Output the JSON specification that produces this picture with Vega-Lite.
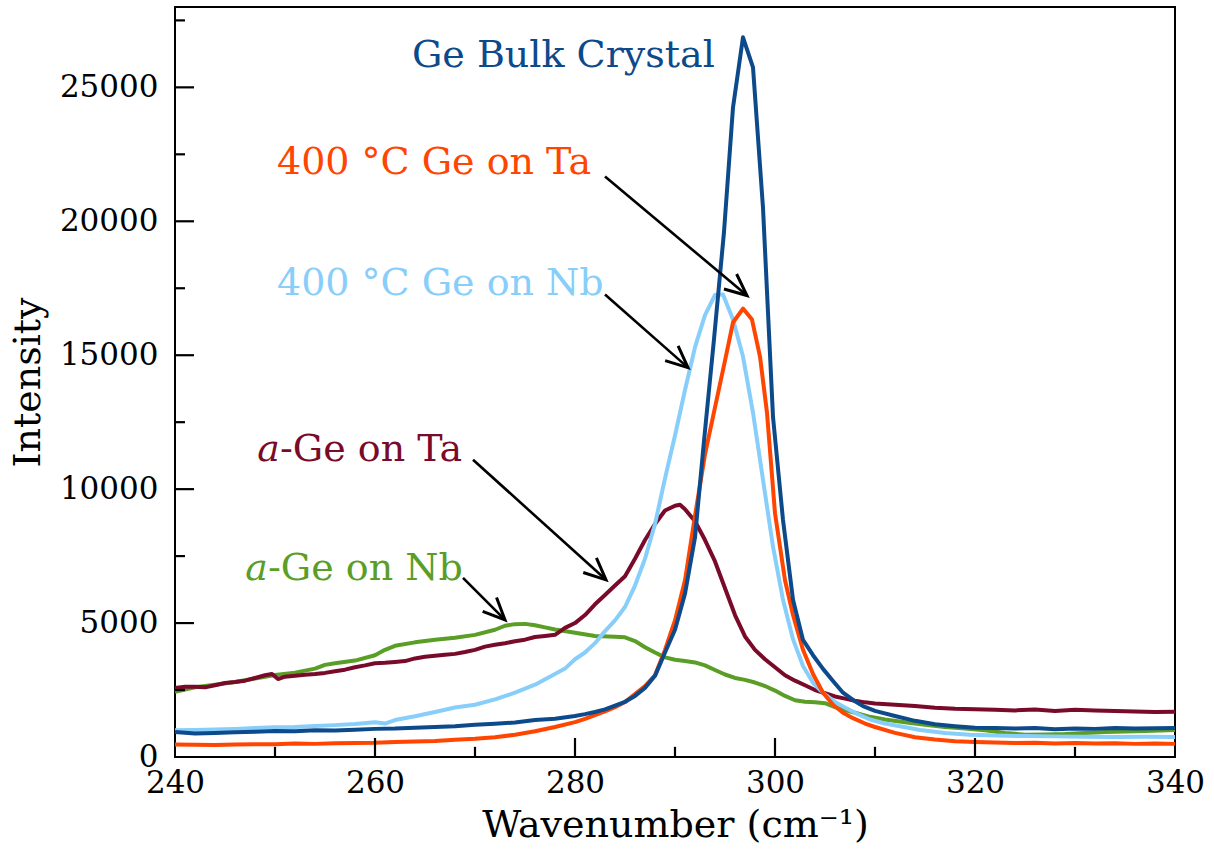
{
  "$schema": "https://vega.github.io/schema/vega-lite/v6.json",
  "width": 1000,
  "height": 750,
  "autosize": "none",
  "padding": {"left": 175, "top": 7, "right": 39, "bottom": 97},
  "background": "white",
  "config": {
    "font": "DejaVu Serif",
    "view": {"stroke": "black", "strokeWidth": 2},
    "axis": {
      "grid": false,
      "domain": false,
      "ticks": false,
      "labelColor": "black",
      "labelFont": "DejaVu Serif",
      "labelFlush": false,
      "titleFont": "DejaVu Serif",
      "titleColor": "black",
      "titleFontWeight": "normal"
    }
  },
  "datasets": {
    "spectra": [
      {"series": "a-Ge on Nb", "wavenumber": 240, "intensity": 2430},
      {"series": "a-Ge on Nb", "wavenumber": 242, "intensity": 2600},
      {"series": "a-Ge on Nb", "wavenumber": 244, "intensity": 2700},
      {"series": "a-Ge on Nb", "wavenumber": 246, "intensity": 2800},
      {"series": "a-Ge on Nb", "wavenumber": 248, "intensity": 2930},
      {"series": "a-Ge on Nb", "wavenumber": 250, "intensity": 3060},
      {"series": "a-Ge on Nb", "wavenumber": 252, "intensity": 3150},
      {"series": "a-Ge on Nb", "wavenumber": 254, "intensity": 3300},
      {"series": "a-Ge on Nb", "wavenumber": 255, "intensity": 3440},
      {"series": "a-Ge on Nb", "wavenumber": 256, "intensity": 3500},
      {"series": "a-Ge on Nb", "wavenumber": 258, "intensity": 3600},
      {"series": "a-Ge on Nb", "wavenumber": 260, "intensity": 3800},
      {"series": "a-Ge on Nb", "wavenumber": 261, "intensity": 4000},
      {"series": "a-Ge on Nb", "wavenumber": 262, "intensity": 4150},
      {"series": "a-Ge on Nb", "wavenumber": 264, "intensity": 4280},
      {"series": "a-Ge on Nb", "wavenumber": 266, "intensity": 4380},
      {"series": "a-Ge on Nb", "wavenumber": 268, "intensity": 4450},
      {"series": "a-Ge on Nb", "wavenumber": 270, "intensity": 4560},
      {"series": "a-Ge on Nb", "wavenumber": 272, "intensity": 4750},
      {"series": "a-Ge on Nb", "wavenumber": 273, "intensity": 4900},
      {"series": "a-Ge on Nb", "wavenumber": 274, "intensity": 4960},
      {"series": "a-Ge on Nb", "wavenumber": 275, "intensity": 4970},
      {"series": "a-Ge on Nb", "wavenumber": 276, "intensity": 4920},
      {"series": "a-Ge on Nb", "wavenumber": 277, "intensity": 4840},
      {"series": "a-Ge on Nb", "wavenumber": 278, "intensity": 4760},
      {"series": "a-Ge on Nb", "wavenumber": 280, "intensity": 4640},
      {"series": "a-Ge on Nb", "wavenumber": 282, "intensity": 4520},
      {"series": "a-Ge on Nb", "wavenumber": 284, "intensity": 4490},
      {"series": "a-Ge on Nb", "wavenumber": 285, "intensity": 4470},
      {"series": "a-Ge on Nb", "wavenumber": 286, "intensity": 4330},
      {"series": "a-Ge on Nb", "wavenumber": 287, "intensity": 4100},
      {"series": "a-Ge on Nb", "wavenumber": 288, "intensity": 3900},
      {"series": "a-Ge on Nb", "wavenumber": 289, "intensity": 3720},
      {"series": "a-Ge on Nb", "wavenumber": 290, "intensity": 3630},
      {"series": "a-Ge on Nb", "wavenumber": 291, "intensity": 3580},
      {"series": "a-Ge on Nb", "wavenumber": 292, "intensity": 3530},
      {"series": "a-Ge on Nb", "wavenumber": 293, "intensity": 3420},
      {"series": "a-Ge on Nb", "wavenumber": 294, "intensity": 3250},
      {"series": "a-Ge on Nb", "wavenumber": 295, "intensity": 3080},
      {"series": "a-Ge on Nb", "wavenumber": 296, "intensity": 2950},
      {"series": "a-Ge on Nb", "wavenumber": 297, "intensity": 2880},
      {"series": "a-Ge on Nb", "wavenumber": 298, "intensity": 2780},
      {"series": "a-Ge on Nb", "wavenumber": 299, "intensity": 2650},
      {"series": "a-Ge on Nb", "wavenumber": 300, "intensity": 2480},
      {"series": "a-Ge on Nb", "wavenumber": 301, "intensity": 2280},
      {"series": "a-Ge on Nb", "wavenumber": 302, "intensity": 2120},
      {"series": "a-Ge on Nb", "wavenumber": 303, "intensity": 2060},
      {"series": "a-Ge on Nb", "wavenumber": 304, "intensity": 2040},
      {"series": "a-Ge on Nb", "wavenumber": 305, "intensity": 2010},
      {"series": "a-Ge on Nb", "wavenumber": 306, "intensity": 1860},
      {"series": "a-Ge on Nb", "wavenumber": 307, "intensity": 1750},
      {"series": "a-Ge on Nb", "wavenumber": 308, "intensity": 1650},
      {"series": "a-Ge on Nb", "wavenumber": 309.5, "intensity": 1500},
      {"series": "a-Ge on Nb", "wavenumber": 311, "intensity": 1400},
      {"series": "a-Ge on Nb", "wavenumber": 313, "intensity": 1300},
      {"series": "a-Ge on Nb", "wavenumber": 315, "intensity": 1200},
      {"series": "a-Ge on Nb", "wavenumber": 317, "intensity": 1120},
      {"series": "a-Ge on Nb", "wavenumber": 319, "intensity": 1060},
      {"series": "a-Ge on Nb", "wavenumber": 321, "intensity": 1000},
      {"series": "a-Ge on Nb", "wavenumber": 323, "intensity": 900},
      {"series": "a-Ge on Nb", "wavenumber": 325, "intensity": 830},
      {"series": "a-Ge on Nb", "wavenumber": 327, "intensity": 840},
      {"series": "a-Ge on Nb", "wavenumber": 329, "intensity": 860},
      {"series": "a-Ge on Nb", "wavenumber": 331, "intensity": 900},
      {"series": "a-Ge on Nb", "wavenumber": 333, "intensity": 930},
      {"series": "a-Ge on Nb", "wavenumber": 335, "intensity": 950},
      {"series": "a-Ge on Nb", "wavenumber": 337, "intensity": 970},
      {"series": "a-Ge on Nb", "wavenumber": 340, "intensity": 1010},

      {"series": "a-Ge on Ta", "wavenumber": 240, "intensity": 2580},
      {"series": "a-Ge on Ta", "wavenumber": 241, "intensity": 2620},
      {"series": "a-Ge on Ta", "wavenumber": 242, "intensity": 2620},
      {"series": "a-Ge on Ta", "wavenumber": 243, "intensity": 2600},
      {"series": "a-Ge on Ta", "wavenumber": 244, "intensity": 2680},
      {"series": "a-Ge on Ta", "wavenumber": 245, "intensity": 2760},
      {"series": "a-Ge on Ta", "wavenumber": 246, "intensity": 2800},
      {"series": "a-Ge on Ta", "wavenumber": 247, "intensity": 2850},
      {"series": "a-Ge on Ta", "wavenumber": 248, "intensity": 2950},
      {"series": "a-Ge on Ta", "wavenumber": 249, "intensity": 3050},
      {"series": "a-Ge on Ta", "wavenumber": 249.7, "intensity": 3100},
      {"series": "a-Ge on Ta", "wavenumber": 250.3, "intensity": 2910},
      {"series": "a-Ge on Ta", "wavenumber": 251, "intensity": 3000},
      {"series": "a-Ge on Ta", "wavenumber": 252, "intensity": 3030},
      {"series": "a-Ge on Ta", "wavenumber": 253, "intensity": 3070},
      {"series": "a-Ge on Ta", "wavenumber": 254, "intensity": 3100},
      {"series": "a-Ge on Ta", "wavenumber": 255, "intensity": 3140},
      {"series": "a-Ge on Ta", "wavenumber": 256, "intensity": 3200},
      {"series": "a-Ge on Ta", "wavenumber": 257, "intensity": 3260},
      {"series": "a-Ge on Ta", "wavenumber": 258, "intensity": 3350},
      {"series": "a-Ge on Ta", "wavenumber": 259, "intensity": 3420},
      {"series": "a-Ge on Ta", "wavenumber": 260, "intensity": 3500},
      {"series": "a-Ge on Ta", "wavenumber": 261, "intensity": 3520},
      {"series": "a-Ge on Ta", "wavenumber": 262, "intensity": 3550},
      {"series": "a-Ge on Ta", "wavenumber": 263, "intensity": 3580},
      {"series": "a-Ge on Ta", "wavenumber": 264, "intensity": 3680},
      {"series": "a-Ge on Ta", "wavenumber": 265, "intensity": 3740},
      {"series": "a-Ge on Ta", "wavenumber": 266, "intensity": 3780},
      {"series": "a-Ge on Ta", "wavenumber": 267, "intensity": 3820},
      {"series": "a-Ge on Ta", "wavenumber": 268, "intensity": 3850},
      {"series": "a-Ge on Ta", "wavenumber": 269, "intensity": 3920},
      {"series": "a-Ge on Ta", "wavenumber": 270, "intensity": 4000},
      {"series": "a-Ge on Ta", "wavenumber": 271, "intensity": 4120},
      {"series": "a-Ge on Ta", "wavenumber": 272, "intensity": 4190},
      {"series": "a-Ge on Ta", "wavenumber": 273, "intensity": 4250},
      {"series": "a-Ge on Ta", "wavenumber": 274, "intensity": 4320},
      {"series": "a-Ge on Ta", "wavenumber": 275, "intensity": 4380},
      {"series": "a-Ge on Ta", "wavenumber": 276, "intensity": 4480},
      {"series": "a-Ge on Ta", "wavenumber": 277, "intensity": 4520},
      {"series": "a-Ge on Ta", "wavenumber": 278, "intensity": 4560},
      {"series": "a-Ge on Ta", "wavenumber": 279, "intensity": 4820},
      {"series": "a-Ge on Ta", "wavenumber": 280, "intensity": 5000},
      {"series": "a-Ge on Ta", "wavenumber": 281, "intensity": 5300},
      {"series": "a-Ge on Ta", "wavenumber": 282, "intensity": 5700},
      {"series": "a-Ge on Ta", "wavenumber": 283, "intensity": 6050},
      {"series": "a-Ge on Ta", "wavenumber": 284, "intensity": 6400},
      {"series": "a-Ge on Ta", "wavenumber": 285, "intensity": 6750},
      {"series": "a-Ge on Ta", "wavenumber": 286, "intensity": 7400},
      {"series": "a-Ge on Ta", "wavenumber": 287, "intensity": 8100},
      {"series": "a-Ge on Ta", "wavenumber": 288, "intensity": 8700},
      {"series": "a-Ge on Ta", "wavenumber": 289, "intensity": 9200},
      {"series": "a-Ge on Ta", "wavenumber": 290, "intensity": 9380},
      {"series": "a-Ge on Ta", "wavenumber": 290.5, "intensity": 9420},
      {"series": "a-Ge on Ta", "wavenumber": 291, "intensity": 9250},
      {"series": "a-Ge on Ta", "wavenumber": 292, "intensity": 8800},
      {"series": "a-Ge on Ta", "wavenumber": 293, "intensity": 8100},
      {"series": "a-Ge on Ta", "wavenumber": 294, "intensity": 7300},
      {"series": "a-Ge on Ta", "wavenumber": 295, "intensity": 6300},
      {"series": "a-Ge on Ta", "wavenumber": 296, "intensity": 5300},
      {"series": "a-Ge on Ta", "wavenumber": 297, "intensity": 4500},
      {"series": "a-Ge on Ta", "wavenumber": 298, "intensity": 4000},
      {"series": "a-Ge on Ta", "wavenumber": 299, "intensity": 3650},
      {"series": "a-Ge on Ta", "wavenumber": 300, "intensity": 3350},
      {"series": "a-Ge on Ta", "wavenumber": 301, "intensity": 3050},
      {"series": "a-Ge on Ta", "wavenumber": 302, "intensity": 2850},
      {"series": "a-Ge on Ta", "wavenumber": 303, "intensity": 2680},
      {"series": "a-Ge on Ta", "wavenumber": 304, "intensity": 2500},
      {"series": "a-Ge on Ta", "wavenumber": 305, "intensity": 2380},
      {"series": "a-Ge on Ta", "wavenumber": 306, "intensity": 2260},
      {"series": "a-Ge on Ta", "wavenumber": 307, "intensity": 2180},
      {"series": "a-Ge on Ta", "wavenumber": 308, "intensity": 2100},
      {"series": "a-Ge on Ta", "wavenumber": 309, "intensity": 2040},
      {"series": "a-Ge on Ta", "wavenumber": 310, "intensity": 2000},
      {"series": "a-Ge on Ta", "wavenumber": 312, "intensity": 1950},
      {"series": "a-Ge on Ta", "wavenumber": 314, "intensity": 1900},
      {"series": "a-Ge on Ta", "wavenumber": 316, "intensity": 1840},
      {"series": "a-Ge on Ta", "wavenumber": 318, "intensity": 1800},
      {"series": "a-Ge on Ta", "wavenumber": 320, "intensity": 1780},
      {"series": "a-Ge on Ta", "wavenumber": 322, "intensity": 1760},
      {"series": "a-Ge on Ta", "wavenumber": 324, "intensity": 1740},
      {"series": "a-Ge on Ta", "wavenumber": 326, "intensity": 1770},
      {"series": "a-Ge on Ta", "wavenumber": 328, "intensity": 1720},
      {"series": "a-Ge on Ta", "wavenumber": 330, "intensity": 1760},
      {"series": "a-Ge on Ta", "wavenumber": 332, "intensity": 1740},
      {"series": "a-Ge on Ta", "wavenumber": 334, "intensity": 1720},
      {"series": "a-Ge on Ta", "wavenumber": 336, "intensity": 1700},
      {"series": "a-Ge on Ta", "wavenumber": 338, "intensity": 1680},
      {"series": "a-Ge on Ta", "wavenumber": 340, "intensity": 1690},

      {"series": "400 °C Ge on Nb", "wavenumber": 240, "intensity": 1000},
      {"series": "400 °C Ge on Nb", "wavenumber": 242, "intensity": 1010},
      {"series": "400 °C Ge on Nb", "wavenumber": 244, "intensity": 1030},
      {"series": "400 °C Ge on Nb", "wavenumber": 246, "intensity": 1050},
      {"series": "400 °C Ge on Nb", "wavenumber": 248, "intensity": 1080},
      {"series": "400 °C Ge on Nb", "wavenumber": 250, "intensity": 1110},
      {"series": "400 °C Ge on Nb", "wavenumber": 252, "intensity": 1120},
      {"series": "400 °C Ge on Nb", "wavenumber": 254, "intensity": 1160},
      {"series": "400 °C Ge on Nb", "wavenumber": 256, "intensity": 1190},
      {"series": "400 °C Ge on Nb", "wavenumber": 258, "intensity": 1230},
      {"series": "400 °C Ge on Nb", "wavenumber": 260, "intensity": 1300},
      {"series": "400 °C Ge on Nb", "wavenumber": 261, "intensity": 1250},
      {"series": "400 °C Ge on Nb", "wavenumber": 262, "intensity": 1380},
      {"series": "400 °C Ge on Nb", "wavenumber": 264, "intensity": 1520},
      {"series": "400 °C Ge on Nb", "wavenumber": 266, "intensity": 1680},
      {"series": "400 °C Ge on Nb", "wavenumber": 268, "intensity": 1850},
      {"series": "400 °C Ge on Nb", "wavenumber": 270, "intensity": 1950},
      {"series": "400 °C Ge on Nb", "wavenumber": 272, "intensity": 2150},
      {"series": "400 °C Ge on Nb", "wavenumber": 274, "intensity": 2400},
      {"series": "400 °C Ge on Nb", "wavenumber": 276, "intensity": 2700},
      {"series": "400 °C Ge on Nb", "wavenumber": 278, "intensity": 3100},
      {"series": "400 °C Ge on Nb", "wavenumber": 279, "intensity": 3300},
      {"series": "400 °C Ge on Nb", "wavenumber": 280, "intensity": 3650},
      {"series": "400 °C Ge on Nb", "wavenumber": 281, "intensity": 3900},
      {"series": "400 °C Ge on Nb", "wavenumber": 282, "intensity": 4250},
      {"series": "400 °C Ge on Nb", "wavenumber": 283, "intensity": 4700},
      {"series": "400 °C Ge on Nb", "wavenumber": 284, "intensity": 5100},
      {"series": "400 °C Ge on Nb", "wavenumber": 285, "intensity": 5600},
      {"series": "400 °C Ge on Nb", "wavenumber": 286, "intensity": 6400},
      {"series": "400 °C Ge on Nb", "wavenumber": 287, "intensity": 7400},
      {"series": "400 °C Ge on Nb", "wavenumber": 288, "intensity": 8700},
      {"series": "400 °C Ge on Nb", "wavenumber": 289, "intensity": 10400},
      {"series": "400 °C Ge on Nb", "wavenumber": 290, "intensity": 12000},
      {"series": "400 °C Ge on Nb", "wavenumber": 291, "intensity": 13700},
      {"series": "400 °C Ge on Nb", "wavenumber": 292, "intensity": 15300},
      {"series": "400 °C Ge on Nb", "wavenumber": 293, "intensity": 16500},
      {"series": "400 °C Ge on Nb", "wavenumber": 294, "intensity": 17250},
      {"series": "400 °C Ge on Nb", "wavenumber": 294.8, "intensity": 17270},
      {"series": "400 °C Ge on Nb", "wavenumber": 295.8, "intensity": 16330},
      {"series": "400 °C Ge on Nb", "wavenumber": 296.8, "intensity": 14950},
      {"series": "400 °C Ge on Nb", "wavenumber": 297.8, "intensity": 12850},
      {"series": "400 °C Ge on Nb", "wavenumber": 298.8, "intensity": 10350},
      {"series": "400 °C Ge on Nb", "wavenumber": 299.8, "intensity": 7850},
      {"series": "400 °C Ge on Nb", "wavenumber": 300.8, "intensity": 5870},
      {"series": "400 °C Ge on Nb", "wavenumber": 301.8, "intensity": 4400},
      {"series": "400 °C Ge on Nb", "wavenumber": 302.8, "intensity": 3400},
      {"series": "400 °C Ge on Nb", "wavenumber": 303.8, "intensity": 2770},
      {"series": "400 °C Ge on Nb", "wavenumber": 304.8, "intensity": 2400},
      {"series": "400 °C Ge on Nb", "wavenumber": 306, "intensity": 2050},
      {"series": "400 °C Ge on Nb", "wavenumber": 307, "intensity": 1850},
      {"series": "400 °C Ge on Nb", "wavenumber": 308, "intensity": 1650},
      {"series": "400 °C Ge on Nb", "wavenumber": 309.5, "intensity": 1400},
      {"series": "400 °C Ge on Nb", "wavenumber": 311, "intensity": 1250},
      {"series": "400 °C Ge on Nb", "wavenumber": 312.5, "intensity": 1150},
      {"series": "400 °C Ge on Nb", "wavenumber": 314.5, "intensity": 1010},
      {"series": "400 °C Ge on Nb", "wavenumber": 317, "intensity": 900},
      {"series": "400 °C Ge on Nb", "wavenumber": 319.5, "intensity": 830},
      {"series": "400 °C Ge on Nb", "wavenumber": 322, "intensity": 800},
      {"series": "400 °C Ge on Nb", "wavenumber": 325, "intensity": 780},
      {"series": "400 °C Ge on Nb", "wavenumber": 328, "intensity": 770},
      {"series": "400 °C Ge on Nb", "wavenumber": 331, "intensity": 760},
      {"series": "400 °C Ge on Nb", "wavenumber": 334, "intensity": 750},
      {"series": "400 °C Ge on Nb", "wavenumber": 337, "intensity": 755},
      {"series": "400 °C Ge on Nb", "wavenumber": 340, "intensity": 750},

      {"series": "400 °C Ge on Ta", "wavenumber": 240, "intensity": 470},
      {"series": "400 °C Ge on Ta", "wavenumber": 242, "intensity": 460},
      {"series": "400 °C Ge on Ta", "wavenumber": 244, "intensity": 450},
      {"series": "400 °C Ge on Ta", "wavenumber": 246, "intensity": 470},
      {"series": "400 °C Ge on Ta", "wavenumber": 248, "intensity": 480},
      {"series": "400 °C Ge on Ta", "wavenumber": 250, "intensity": 480},
      {"series": "400 °C Ge on Ta", "wavenumber": 252, "intensity": 500},
      {"series": "400 °C Ge on Ta", "wavenumber": 254, "intensity": 490},
      {"series": "400 °C Ge on Ta", "wavenumber": 256, "intensity": 510},
      {"series": "400 °C Ge on Ta", "wavenumber": 258, "intensity": 520},
      {"series": "400 °C Ge on Ta", "wavenumber": 260, "intensity": 530},
      {"series": "400 °C Ge on Ta", "wavenumber": 262, "intensity": 560},
      {"series": "400 °C Ge on Ta", "wavenumber": 264, "intensity": 580},
      {"series": "400 °C Ge on Ta", "wavenumber": 266, "intensity": 600},
      {"series": "400 °C Ge on Ta", "wavenumber": 268, "intensity": 640},
      {"series": "400 °C Ge on Ta", "wavenumber": 270, "intensity": 680},
      {"series": "400 °C Ge on Ta", "wavenumber": 272, "intensity": 740},
      {"series": "400 °C Ge on Ta", "wavenumber": 274, "intensity": 830},
      {"series": "400 °C Ge on Ta", "wavenumber": 276, "intensity": 960},
      {"series": "400 °C Ge on Ta", "wavenumber": 278, "intensity": 1120},
      {"series": "400 °C Ge on Ta", "wavenumber": 280, "intensity": 1300},
      {"series": "400 °C Ge on Ta", "wavenumber": 281, "intensity": 1420},
      {"series": "400 °C Ge on Ta", "wavenumber": 282, "intensity": 1560},
      {"series": "400 °C Ge on Ta", "wavenumber": 283, "intensity": 1700},
      {"series": "400 °C Ge on Ta", "wavenumber": 284, "intensity": 1860},
      {"series": "400 °C Ge on Ta", "wavenumber": 285, "intensity": 2050},
      {"series": "400 °C Ge on Ta", "wavenumber": 286, "intensity": 2350},
      {"series": "400 °C Ge on Ta", "wavenumber": 287, "intensity": 2650},
      {"series": "400 °C Ge on Ta", "wavenumber": 288, "intensity": 3050},
      {"series": "400 °C Ge on Ta", "wavenumber": 289, "intensity": 4000},
      {"series": "400 °C Ge on Ta", "wavenumber": 290, "intensity": 5100},
      {"series": "400 °C Ge on Ta", "wavenumber": 291, "intensity": 6600},
      {"series": "400 °C Ge on Ta", "wavenumber": 292, "intensity": 9000},
      {"series": "400 °C Ge on Ta", "wavenumber": 293, "intensity": 11300},
      {"series": "400 °C Ge on Ta", "wavenumber": 294, "intensity": 13050},
      {"series": "400 °C Ge on Ta", "wavenumber": 295, "intensity": 14800},
      {"series": "400 °C Ge on Ta", "wavenumber": 295.8, "intensity": 16220},
      {"series": "400 °C Ge on Ta", "wavenumber": 296.8, "intensity": 16740},
      {"series": "400 °C Ge on Ta", "wavenumber": 297.7, "intensity": 16330},
      {"series": "400 °C Ge on Ta", "wavenumber": 298.5, "intensity": 14950},
      {"series": "400 °C Ge on Ta", "wavenumber": 299.2, "intensity": 12850},
      {"series": "400 °C Ge on Ta", "wavenumber": 300, "intensity": 9100},
      {"series": "400 °C Ge on Ta", "wavenumber": 301, "intensity": 6600},
      {"series": "400 °C Ge on Ta", "wavenumber": 301.8, "intensity": 5300},
      {"series": "400 °C Ge on Ta", "wavenumber": 302.8, "intensity": 4000},
      {"series": "400 °C Ge on Ta", "wavenumber": 303.8, "intensity": 3100},
      {"series": "400 °C Ge on Ta", "wavenumber": 304.8, "intensity": 2400},
      {"series": "400 °C Ge on Ta", "wavenumber": 305.8, "intensity": 1950},
      {"series": "400 °C Ge on Ta", "wavenumber": 306.8, "intensity": 1650},
      {"series": "400 °C Ge on Ta", "wavenumber": 307.8, "intensity": 1450},
      {"series": "400 °C Ge on Ta", "wavenumber": 309, "intensity": 1250},
      {"series": "400 °C Ge on Ta", "wavenumber": 310, "intensity": 1120},
      {"series": "400 °C Ge on Ta", "wavenumber": 312, "intensity": 900},
      {"series": "400 °C Ge on Ta", "wavenumber": 314, "intensity": 740},
      {"series": "400 °C Ge on Ta", "wavenumber": 316, "intensity": 650},
      {"series": "400 °C Ge on Ta", "wavenumber": 318, "intensity": 590},
      {"series": "400 °C Ge on Ta", "wavenumber": 320, "intensity": 560},
      {"series": "400 °C Ge on Ta", "wavenumber": 322, "intensity": 540},
      {"series": "400 °C Ge on Ta", "wavenumber": 324, "intensity": 520},
      {"series": "400 °C Ge on Ta", "wavenumber": 326, "intensity": 530},
      {"series": "400 °C Ge on Ta", "wavenumber": 328, "intensity": 500},
      {"series": "400 °C Ge on Ta", "wavenumber": 330, "intensity": 520},
      {"series": "400 °C Ge on Ta", "wavenumber": 332, "intensity": 500},
      {"series": "400 °C Ge on Ta", "wavenumber": 334, "intensity": 510},
      {"series": "400 °C Ge on Ta", "wavenumber": 336, "intensity": 490},
      {"series": "400 °C Ge on Ta", "wavenumber": 338, "intensity": 500},
      {"series": "400 °C Ge on Ta", "wavenumber": 340, "intensity": 490},

      {"series": "Ge Bulk Crystal", "wavenumber": 240, "intensity": 930},
      {"series": "Ge Bulk Crystal", "wavenumber": 242, "intensity": 880},
      {"series": "Ge Bulk Crystal", "wavenumber": 244, "intensity": 900},
      {"series": "Ge Bulk Crystal", "wavenumber": 246, "intensity": 920},
      {"series": "Ge Bulk Crystal", "wavenumber": 248, "intensity": 940},
      {"series": "Ge Bulk Crystal", "wavenumber": 250, "intensity": 970},
      {"series": "Ge Bulk Crystal", "wavenumber": 252, "intensity": 960},
      {"series": "Ge Bulk Crystal", "wavenumber": 254, "intensity": 1000},
      {"series": "Ge Bulk Crystal", "wavenumber": 256, "intensity": 990},
      {"series": "Ge Bulk Crystal", "wavenumber": 258, "intensity": 1020},
      {"series": "Ge Bulk Crystal", "wavenumber": 260, "intensity": 1050},
      {"series": "Ge Bulk Crystal", "wavenumber": 262, "intensity": 1060},
      {"series": "Ge Bulk Crystal", "wavenumber": 264, "intensity": 1090},
      {"series": "Ge Bulk Crystal", "wavenumber": 266, "intensity": 1120},
      {"series": "Ge Bulk Crystal", "wavenumber": 268, "intensity": 1150},
      {"series": "Ge Bulk Crystal", "wavenumber": 270, "intensity": 1200},
      {"series": "Ge Bulk Crystal", "wavenumber": 272, "intensity": 1240},
      {"series": "Ge Bulk Crystal", "wavenumber": 274, "intensity": 1290},
      {"series": "Ge Bulk Crystal", "wavenumber": 276, "intensity": 1380},
      {"series": "Ge Bulk Crystal", "wavenumber": 278, "intensity": 1430},
      {"series": "Ge Bulk Crystal", "wavenumber": 280, "intensity": 1530},
      {"series": "Ge Bulk Crystal", "wavenumber": 281, "intensity": 1600},
      {"series": "Ge Bulk Crystal", "wavenumber": 282, "intensity": 1680},
      {"series": "Ge Bulk Crystal", "wavenumber": 283, "intensity": 1780},
      {"series": "Ge Bulk Crystal", "wavenumber": 284, "intensity": 1920},
      {"series": "Ge Bulk Crystal", "wavenumber": 285, "intensity": 2060},
      {"series": "Ge Bulk Crystal", "wavenumber": 286, "intensity": 2280},
      {"series": "Ge Bulk Crystal", "wavenumber": 287, "intensity": 2580},
      {"series": "Ge Bulk Crystal", "wavenumber": 288, "intensity": 3030},
      {"series": "Ge Bulk Crystal", "wavenumber": 289, "intensity": 3900},
      {"series": "Ge Bulk Crystal", "wavenumber": 290, "intensity": 4750},
      {"series": "Ge Bulk Crystal", "wavenumber": 291, "intensity": 6100},
      {"series": "Ge Bulk Crystal", "wavenumber": 292, "intensity": 8200},
      {"series": "Ge Bulk Crystal", "wavenumber": 292.9, "intensity": 11800},
      {"series": "Ge Bulk Crystal", "wavenumber": 293.9, "intensity": 15600},
      {"series": "Ge Bulk Crystal", "wavenumber": 294.9, "intensity": 19600},
      {"series": "Ge Bulk Crystal", "wavenumber": 295.8, "intensity": 24250},
      {"series": "Ge Bulk Crystal", "wavenumber": 296.8, "intensity": 26870},
      {"series": "Ge Bulk Crystal", "wavenumber": 297.8, "intensity": 25750},
      {"series": "Ge Bulk Crystal", "wavenumber": 298.8, "intensity": 20500},
      {"series": "Ge Bulk Crystal", "wavenumber": 299.8, "intensity": 12700},
      {"series": "Ge Bulk Crystal", "wavenumber": 300.8, "intensity": 8850},
      {"series": "Ge Bulk Crystal", "wavenumber": 301.8, "intensity": 5870},
      {"series": "Ge Bulk Crystal", "wavenumber": 302.8, "intensity": 4370},
      {"series": "Ge Bulk Crystal", "wavenumber": 303.8, "intensity": 3800},
      {"series": "Ge Bulk Crystal", "wavenumber": 304.8, "intensity": 3290},
      {"series": "Ge Bulk Crystal", "wavenumber": 305.8, "intensity": 2840},
      {"series": "Ge Bulk Crystal", "wavenumber": 306.8, "intensity": 2400},
      {"series": "Ge Bulk Crystal", "wavenumber": 307.8, "intensity": 2130},
      {"series": "Ge Bulk Crystal", "wavenumber": 308.8, "intensity": 1900},
      {"series": "Ge Bulk Crystal", "wavenumber": 310, "intensity": 1720},
      {"series": "Ge Bulk Crystal", "wavenumber": 312, "intensity": 1530},
      {"series": "Ge Bulk Crystal", "wavenumber": 314, "intensity": 1350},
      {"series": "Ge Bulk Crystal", "wavenumber": 316, "intensity": 1220},
      {"series": "Ge Bulk Crystal", "wavenumber": 318, "intensity": 1150},
      {"series": "Ge Bulk Crystal", "wavenumber": 320, "intensity": 1090},
      {"series": "Ge Bulk Crystal", "wavenumber": 322, "intensity": 1080},
      {"series": "Ge Bulk Crystal", "wavenumber": 324, "intensity": 1060},
      {"series": "Ge Bulk Crystal", "wavenumber": 326, "intensity": 1080},
      {"series": "Ge Bulk Crystal", "wavenumber": 328, "intensity": 1040},
      {"series": "Ge Bulk Crystal", "wavenumber": 330, "intensity": 1060},
      {"series": "Ge Bulk Crystal", "wavenumber": 332, "intensity": 1050},
      {"series": "Ge Bulk Crystal", "wavenumber": 334, "intensity": 1080},
      {"series": "Ge Bulk Crystal", "wavenumber": 336, "intensity": 1060},
      {"series": "Ge Bulk Crystal", "wavenumber": 338, "intensity": 1070},
      {"series": "Ge Bulk Crystal", "wavenumber": 340, "intensity": 1080}
    ],
    "arrows": [
      {"wavenumber": 283.0, "intensity": 21675, "wavenumber_end": 297.2, "intensity_end": 17228},
      {"wavenumber": 283.0, "intensity": 17265, "wavenumber_end": 291.3, "intensity_end": 14537},
      {"wavenumber": 269.8, "intensity": 11099, "wavenumber_end": 283.1, "intensity_end": 6614},
      {"wavenumber": 268.8, "intensity": 6689, "wavenumber_end": 273.0, "intensity_end": 5120}
    ],
    "labels": [
      {"series": "Ge Bulk Crystal", "prefix": "", "text": "Ge Bulk Crystal", "wavenumber": 263.7, "intensity": 25750},
      {"series": "400 °C Ge on Ta", "prefix": "", "text": "400 °C Ge on Ta", "wavenumber": 250.2, "intensity": 21750},
      {"series": "400 °C Ge on Nb", "prefix": "", "text": "400 °C Ge on Nb", "wavenumber": 250.2, "intensity": 17265},
      {"series": "a-Ge on Ta", "prefix": "a", "text": "-Ge on Ta", "wavenumber": 250.5, "intensity": 11060},
      {"series": "a-Ge on Nb", "prefix": "a", "text": "-Ge on Nb", "wavenumber": 249.3, "intensity": 6614}
    ],
    "x_major_ticks": [
      {"wavenumber": 260}, {"wavenumber": 280}, {"wavenumber": 300}, {"wavenumber": 320}
    ],
    "x_minor_ticks": [
      {"wavenumber": 250}, {"wavenumber": 270}, {"wavenumber": 290}, {"wavenumber": 310}, {"wavenumber": 330}
    ],
    "y_major_ticks": [
      {"intensity": 5000}, {"intensity": 10000}, {"intensity": 15000}, {"intensity": 20000}, {"intensity": 25000}
    ],
    "y_minor_ticks": [
      {"intensity": 2500}, {"intensity": 7500}, {"intensity": 12500}, {"intensity": 17500}, {"intensity": 22500}, {"intensity": 27500}
    ]
  },
  "layer": [
    {
      "data": {"name": "spectra"},
      "mark": {"type": "line", "strokeWidth": 4, "strokeJoin": "round"},
      "encoding": {
        "x": {
          "field": "wavenumber",
          "type": "quantitative",
          "scale": {"domain": [240, 340], "nice": false, "zero": false},
          "axis": {
            "orient": "bottom",
            "values": [240, 260, 280, 300, 320, 340],
            "labelFontSize": 31,
            "labelPadding": 11,
            "title": "Wavenumber (cm⁻¹)",
            "titleFontSize": 38,
            "titlePadding": 8
          }
        },
        "y": {
          "field": "intensity",
          "type": "quantitative",
          "scale": {"domain": [0, 28000], "nice": false},
          "axis": {
            "orient": "left",
            "values": [0, 5000, 10000, 15000, 20000, 25000],
            "format": "d",
            "labelFontSize": 31,
            "labelPadding": 17,
            "title": "Intensity",
            "titleFontSize": 38,
            "titlePadding": 12
          }
        },
        "color": {
          "field": "series",
          "type": "nominal",
          "scale": {
            "domain": ["Ge Bulk Crystal", "400 °C Ge on Ta", "400 °C Ge on Nb", "a-Ge on Ta", "a-Ge on Nb"],
            "range": ["#0c4a8c", "#ff4500", "#87cefa", "#7a0a2a", "#5a9e26"]
          },
          "legend": null
        }
      }
    },
    {
      "data": {"name": "x_major_ticks"},
      "mark": {"type": "rule", "strokeWidth": 2.2, "color": "black"},
      "encoding": {
        "x": {"field": "wavenumber", "type": "quantitative"},
        "y": {"datum": 0, "type": "quantitative"},
        "y2": {"datum": 710}
      }
    },
    {
      "data": {"name": "x_minor_ticks"},
      "mark": {"type": "rule", "strokeWidth": 2.2, "color": "black"},
      "encoding": {
        "x": {"field": "wavenumber", "type": "quantitative"},
        "y": {"datum": 0, "type": "quantitative"},
        "y2": {"datum": 380}
      }
    },
    {
      "data": {"name": "y_major_ticks"},
      "mark": {"type": "rule", "strokeWidth": 2.2, "color": "black"},
      "encoding": {
        "y": {"field": "intensity", "type": "quantitative"},
        "x": {"datum": 240, "type": "quantitative"},
        "x2": {"datum": 241.9}
      }
    },
    {
      "data": {"name": "y_minor_ticks"},
      "mark": {"type": "rule", "strokeWidth": 2.2, "color": "black"},
      "encoding": {
        "y": {"field": "intensity", "type": "quantitative"},
        "x": {"datum": 240, "type": "quantitative"},
        "x2": {"datum": 241.0}
      }
    },
    {
      "data": {"name": "arrows"},
      "mark": {"type": "rule", "strokeWidth": 2.6, "color": "black"},
      "encoding": {
        "x": {"field": "wavenumber", "type": "quantitative"},
        "y": {"field": "intensity", "type": "quantitative"},
        "x2": {"field": "wavenumber_end"},
        "y2": {"field": "intensity_end"}
      }
    },
    {
      "data": {"name": "arrows"},
      "transform": [
        {"calculate": "atan2((datum.intensity - datum.intensity_end) * 750 / 28000, (datum.wavenumber_end - datum.wavenumber) * 10) * 180 / PI", "as": "heading"}
      ],
      "mark": {"type": "point", "shape": "M -1 -0.45 L 0 0 L -1 0.45", "filled": false, "stroke": "black", "strokeWidth": 3, "size": 1900, "opacity": 1, "strokeJoin": "miter"},
      "encoding": {
        "x": {"field": "wavenumber_end", "type": "quantitative"},
        "y": {"field": "intensity_end", "type": "quantitative"},
        "angle": {"field": "heading", "type": "quantitative", "scale": null}
      }
    },
    {
      "data": {"name": "labels"},
      "mark": {"type": "text", "align": "left", "baseline": "alphabetic", "fontSize": 38, "font": "DejaVu Serif"},
      "encoding": {
        "x": {"field": "wavenumber", "type": "quantitative"},
        "y": {"field": "intensity", "type": "quantitative"},
        "text": {"field": "text"},
        "color": {"field": "series", "type": "nominal", "legend": null}
      }
    },
    {
      "data": {"name": "labels"},
      "transform": [{"filter": "datum.prefix != ''"}],
      "mark": {"type": "text", "align": "right", "baseline": "alphabetic", "fontSize": 38, "font": "DejaVu Serif", "fontStyle": "italic"},
      "encoding": {
        "x": {"field": "wavenumber", "type": "quantitative"},
        "y": {"field": "intensity", "type": "quantitative"},
        "text": {"field": "prefix"},
        "color": {"field": "series", "type": "nominal", "legend": null}
      }
    }
  ]
}
